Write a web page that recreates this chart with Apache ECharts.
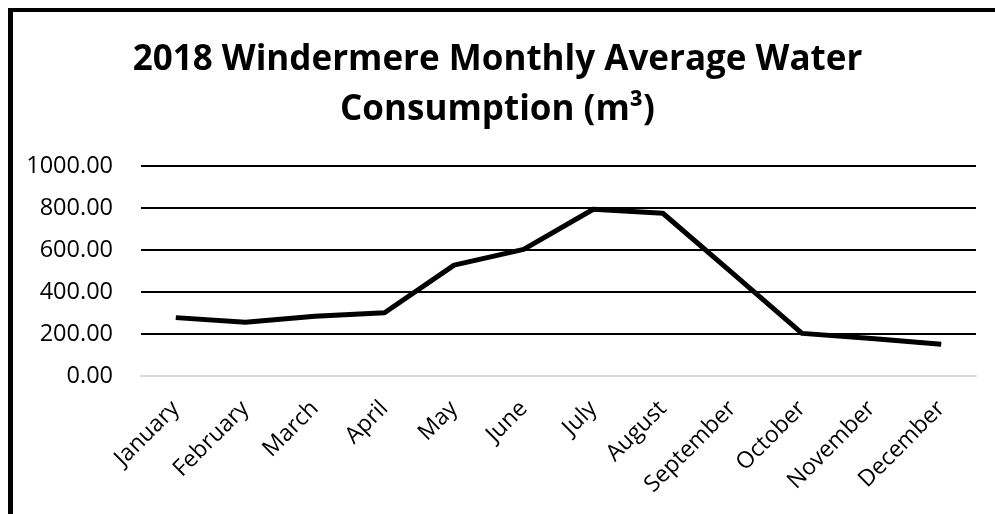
<!DOCTYPE html>
<html>
<head>
<meta charset="utf-8">
<script src="https://cdn.jsdelivr.net/npm/echarts@6/dist/echarts.min.js"></script>
<style>
  html, body { margin: 0; padding: 0; background: #fff; }
  #chart { width: 995px; height: 514px; }
  #frame { position: absolute; left: 8px; top: 8px; width: 1200px; height: 800px;
           border-left: 5px solid #000; border-top: 4px solid #000; pointer-events: none; }
</style>
</head>
<body>
<div id="chart"></div>
<div id="frame"></div>
<script>
const months = ['January', 'February', 'March', 'April', 'May', 'June', 'July',
  'August', 'September', 'October', 'November', 'December'];
const consumption = [278, 256, 285, 301, 528, 603, 794, 775, 490, 203, 179, 151];

const chart = echarts.init(document.getElementById('chart'));

chart.setOption({
  backgroundColor: '#fff',
  animation: false,
  title: {
    text: '2018 Windermere Monthly Average Water\nConsumption (m³)',
    left: 'center',
    top: 30,
    textStyle: {
      fontFamily: 'Open Sans',
      fontWeight: 'bold',
      fontSize: 35,
      lineHeight: 50,
      color: '#000'
    }
  },
  grid: { left: 141, right: 19, top: 166, bottom: 138, containLabel: false },
  xAxis: {
    type: 'category',
    data: months,
    boundaryGap: true,
    axisLine: { show: true, lineStyle: { color: '#d9d9d9', width: 2 } },
    axisTick: { show: false },
    axisLabel: {
      rotate: 45,
      interval: 0,
      margin: 29,
      fontFamily: 'Open Sans',
      fontSize: 23,
      color: '#000'
    }
  },
  yAxis: {
    type: 'value',
    min: 0,
    max: 1000,
    interval: 200,
    axisLine: { show: false },
    axisTick: { show: false },
    axisLabel: {
      margin: 28,
      fontFamily: 'Open Sans',
      fontSize: 23.5,
      color: '#000',
      formatter: v => v.toFixed(2)
    },
    splitLine: {
      show: true,
      lineStyle: { color: ['#d9d9d9', '#000', '#000', '#000', '#000', '#000'], width: 2 }
    }
  },
  series: [{
    type: 'line',
    data: consumption,
    showSymbol: false,
    symbol: 'none',
    lineStyle: { color: '#000', width: 5, join: 'round' }
  }]
});
</script>
</body>
</html>
